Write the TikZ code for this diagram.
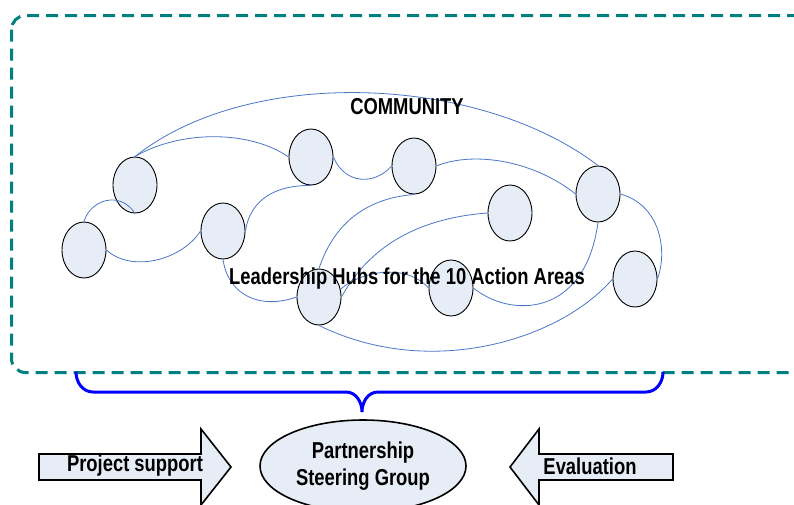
\documentclass[tikz,border=0pt]{standalone}
\usepackage{fontspec}
\newfontfamily\lbl[FakeStretch=0.8]{Liberation Sans}
\usetikzlibrary{shapes.geometric}
\definecolor{hubfill}{RGB}{231,237,247}
\definecolor{linkblue}{RGB}{72,118,200}
\definecolor{tealdash}{RGB}{0,128,128}
\definecolor{bracecol}{RGB}{0,0,255}
\begin{document}
\begin{tikzpicture}[x=1pt,y=-1pt,
 hub/.style={ellipse,draw=black,line width=0.9pt,fill=hubfill,minimum width=44pt,minimum height=56pt,inner sep=0pt},
 link/.style={draw=linkblue,line width=0.8pt},
 lab/.style={font=\lbl\bfseries\fontsize{23}{28}\selectfont,text=black,inner sep=0pt},
 bigarrow/.style={draw=black,line width=1.6pt,fill=hubfill,line join=miter},
 frame/.style={draw=tealdash,line width=3pt,dash pattern=on 12pt off 7pt,rounded corners=14pt},
 bracestyle/.style={draw=bracecol,line width=3pt},
]
\useasboundingbox (0,0) rectangle (794,504);
\clip (0,0) rectangle (794,504);

% community frame
\draw[frame] (11.5,15.5) rectangle (815,372.5);

% hubs
\node[hub] (A) at (135,185) {};
\node[hub] (B) at (84,250) {};
\node[hub] (C) at (223,231) {};
\node[hub] (D) at (311,157) {};
\node[hub] (E) at (414,166) {};
\node[hub] (F) at (510,213) {};
\node[hub] (G) at (598,194) {};
\node[hub] (H) at (635,279) {};
\node[hub] (I) at (451,288) {};
\node[hub] (J) at (319,297) {};

% links
\draw[link] (A.north) .. controls (250,65) and (480,75) .. (G.north);
\draw[link] (A.north) .. controls (180,130) and (250,130) .. (D.west);
\draw[link] (D.east) .. controls (345,185) and (375,185) .. (E.west);
\draw[link] (E.east) .. controls (470,152) and (530,158) .. (G.west);
\draw[link] (D.south) .. controls (275,185) and (250,200) .. (C.east);
\draw[link] (C.west) .. controls (180,262) and (130,272) .. (B.east);
\draw[link] (B.north) .. controls (90,200) and (120,190) .. (A.south);
\draw[link] (C.south) .. controls (228,295) and (260,310) .. (J.west);
\draw[link] (J.north) .. controls (335,220) and (370,198) .. (E.south);
\draw[link] (J.east) .. controls (370,245) and (420,218) .. (F.west);
\draw[link] (J.20) .. controls (360,272) and (405,262) .. (I.west);
\draw[link] (I.east) .. controls (510,318) and (585,318) .. (G.south);
\draw[link] (G.east) .. controls (660,205) and (668,250) .. (H.east);
\draw[link] (H.west) .. controls (560,340) and (430,380) .. (J.south);

% labels in the frame
\node[lab] (community) at (407,107) {COMMUNITY};
\node[lab] (hubs) at (407,279) {Leadership Hubs for the 10 Action Areas};

% brace
\coordinate (brL) at (76,372);
\coordinate (brR) at (663,372);
\coordinate (brTip) at (362,412);
\draw[bracestyle] (brL) to[out=-90,in=180] (93,392) -- (346,392)
  to[out=0,in=90] (brTip) to[out=90,in=180] (378,392) -- (646,392)
  to[out=0,in=-90] (brR);

% steering group
\node[ellipse,draw=black,line width=1.6pt,fill=hubfill,minimum width=206pt,minimum height=92pt,inner sep=0pt] (psg) at (363,466) {};
\node[lab,align=center] (psgtext) at (363,466) {Partnership\\[-1pt]Steering Group};

% arrows
\draw[bigarrow] (39,454) -- (201,454) -- (201,429) -- (231,467) -- (201,505) -- (201,480) -- (39,480) -- cycle;
\node[lab] (support) at (135,466) {Project support};
\draw[bigarrow] (673,454) -- (539,454) -- (539,429) -- (510,467) -- (539,505) -- (539,480) -- (673,480) -- cycle;
\node[lab] (eval) at (590,466) {Evaluation};
\end{tikzpicture}
\end{document}
